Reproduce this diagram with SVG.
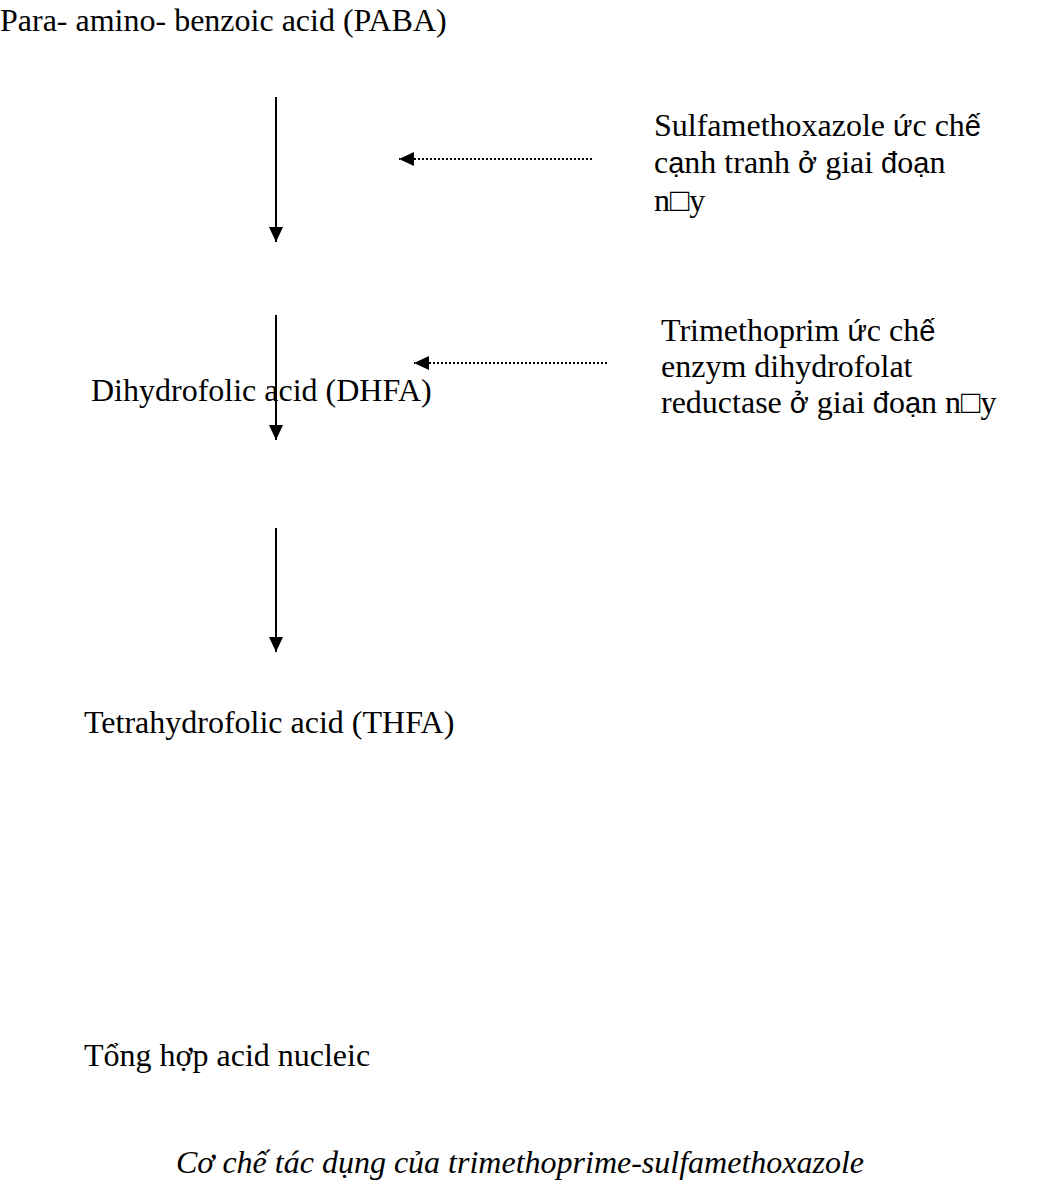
<svg xmlns="http://www.w3.org/2000/svg" width="1040" height="1200" viewBox="0 0 1040 1200">
<style>
.t{font-family:"Liberation Serif","Times New Roman",serif;font-size:32px;fill:#000}
.s{font-family:"Liberation Sans",Arial,sans-serif;font-size:29px}
.cap{font-family:"Liberation Serif","Times New Roman",serif;font-size:32px;font-style:italic;fill:#000}
.solid{stroke:#000;stroke-width:2;fill:none}
.dot{stroke:#000;stroke-width:2;stroke-dasharray:2 2;fill:none}
</style>
<defs>
<marker id="ah" markerWidth="18" markerHeight="16" refX="15" refY="7" orient="auto" markerUnits="userSpaceOnUse">
<path d="M0,0 L15,7 L0,14 Z" fill="#000"/>
</marker>
</defs>
<rect width="1040" height="1200" fill="#fff"/>
<g id="paba"><text class="t" x="0" y="31">Para- amino- benzoic acid (PABA)</text></g>
<g id="dhfa"><text class="t" x="91" y="401">Dihydrofolic acid (DHFA)</text></g>
<g id="thfa"><text class="t" x="84" y="733">Tetrahydrofolic acid (THFA)</text></g>
<g id="nucleic"><text class="t" x="84" y="1066">Tổng hợp acid nucleic</text></g>
<g id="sulfa"><text class="t" x="654" y="136">Sulfamethoxazole <tspan class="s">ứ</tspan>c ch<tspan class="s">ế</tspan></text>
<text class="t" x="654" y="173">c<tspan class="s">ạ</tspan>nh tranh <tspan class="s">ở</tspan> giai <tspan class="s">đ</tspan>o<tspan class="s">ạ</tspan>n</text>
<text class="t" x="654" y="211">n□y</text></g>
<g id="trime"><text class="t" x="661" y="341">Trimethoprim <tspan class="s">ứ</tspan>c ch<tspan class="s">ế</tspan></text>
<text class="t" x="661" y="377">enzym dihydrofolat</text>
<text class="t" x="661" y="413">reductase <tspan class="s">ở</tspan> giai <tspan class="s">đ</tspan>o<tspan class="s">ạ</tspan>n n□y</text></g>
<g id="caption"><text class="cap" x="520" y="1173" text-anchor="middle">Cơ chế tác dụng của trimethoprime-sulfamethoxazole</text></g>
<g id="connectors">
<line class="solid" x1="276" y1="97" x2="276" y2="242" marker-end="url(#ah)"/>
<line class="solid" x1="276" y1="315" x2="276" y2="440" marker-end="url(#ah)"/>
<line class="solid" x1="276" y1="528" x2="276" y2="652" marker-end="url(#ah)"/>
<line class="dot" x1="592" y1="159" x2="399" y2="159" marker-end="url(#ah)"/>
<line class="dot" x1="607" y1="363" x2="414" y2="363" marker-end="url(#ah)"/>
</g>
</svg>
